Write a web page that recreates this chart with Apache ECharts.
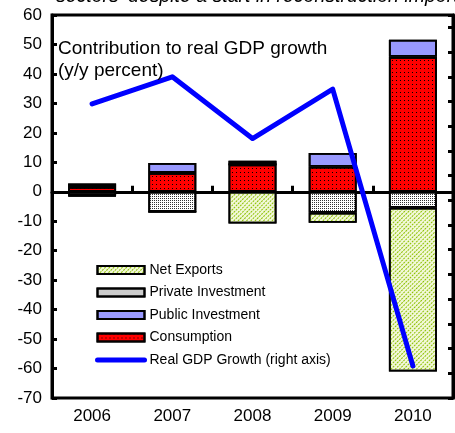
<!DOCTYPE html>
<html lang="en">
<head>
  <meta http-equiv="Content-Type" content="text/html; charset=UTF-8">
  <title>ECharts</title>
  <script type="text/javascript" src="https://cdn.jsdelivr.net/npm/echarts@6/dist/echarts.min.js"></script>
  <style>
    html, body { margin: 0; padding: 0; background: #fff; }
  </style>
</head>
<body>
<div id="main" style="width: 455px;height:433px;"></div>
<script type="text/javascript">
  // data
  var years = ['2006', '2007', '2008', '2009', '2010'];
  var consumption = [1.6, 6.4, 9.3, 8.5, 45.8];
  var publicInv = [1.2, 3.4, 0, 4.7, 5.8];
  var privateInv = [-1.3, -6.8, 1.2, -7.1, -5.4];
  var netExports = [-0.1, 0, -10.8, -3.4, -55.6];
  var gdpGrowth = [1.9, 3.0, 0.5, 2.5, -8.7];

  var font = 'Liberation Sans, Arial, sans-serif';
  var myChart = echarts.init(document.getElementById('main'));

  myChart.setOption({
    animation: false,
    aria: { enabled: true, decal: { show: true } },
    graphic: [
      {
        // title cut off by the top edge in the original
        type: 'text', left: 56, top: -13,
        style: {
          text: "sectors' despite a start in reconstruction imports",
          font: 'italic 19.5px ' + font, fill: '#000'
        }
      },
      {
        type: 'text', left: 58, top: 38, z: 10,
        style: {
          text: 'Contribution to real GDP growth\n(y/y percent)',
          font: '19px ' + font, fill: '#000', lineHeight: 22
        }
      }
    ],
    grid: {
      left: 52, right: 2, top: 15, bottom: 35,
      show: true, borderColor: '#000', borderWidth: 3
    },
    legend: {
      orient: 'vertical',
      left: 95, top: 263, padding: 0,
      itemWidth: 47, itemHeight: 8, itemGap: 8.5,
      textStyle: { fontFamily: font, fontSize: 14, color: '#000' },
      data: [
        { name: 'Net Exports', icon: 'rect' },
        { name: 'Private Investment', icon: 'rect' },
        { name: 'Public Investment', icon: 'rect' },
        { name: 'Consumption', icon: 'rect' },
        { name: 'Real GDP Growth (right axis)', itemStyle: { opacity: 0 }, lineStyle: { width: 5, color: '#0000ff', cap: 'round' } }
      ]
    },
    xAxis: [
      {
        // the year axis, labels along the bottom
        type: 'category', data: years, position: 'bottom',
        axisLine: { show: false, onZero: false },
        axisTick: { show: false },
        axisLabel: { fontFamily: font, fontSize: 17, color: '#000', margin: 10 }
      },
      {
        // zero line with short ticks between the years
        type: 'value', min: 0, max: years.length, interval: 1, position: 'bottom',
        axisLine: { show: true, onZero: true, lineStyle: { color: '#000', width: 3 } },
        axisTick: { show: true, inside: true, length: 6, lineStyle: { width: 3, color: '#000' } },
        axisLabel: { show: false },
        splitLine: { show: false }
      }
    ],
    yAxis: [
      {
        type: 'value', min: -70, max: 60, interval: 10,
        axisLine: { show: true, lineStyle: { color: '#000', width: 3 } },
        axisTick: { show: true, inside: true, length: 5, lineStyle: { width: 3, color: '#000' } },
        axisLabel: { fontFamily: font, fontSize: 17, color: '#000', margin: 10 },
        splitLine: { show: false }
      },
      {
        type: 'value', position: 'right', min: -10, max: 5.5, interval: 1,
        axisLine: { show: true, lineStyle: { color: '#000', width: 3 } },
        axisTick: { show: true, inside: true, length: 5, lineStyle: { width: 3, color: '#000' } },
        axisLabel: { show: false },
        splitLine: { show: false }
      }
    ],
    series: [
      {
        name: 'Consumption', type: 'bar', stack: 'c', barWidth: 48, data: consumption,
        itemStyle: {
          color: '#ff0000', borderColor: '#000', borderWidth: 1.8,
          decal: { symbol: 'rect', color: '#000', dashArrayX: [1, 3], dashArrayY: [1, 3], symbolSize: 1, rotation: 0 }
        }
      },
      {
        name: 'Public Investment', type: 'bar', stack: 'c', data: publicInv,
        itemStyle: {
          color: '#9999ff', borderColor: '#000', borderWidth: 1.8,
          decal: { symbol: 'none', dashArrayX: [0, 10], dashArrayY: [0, 10] }
        }
      },
      {
        name: 'Private Investment', type: 'bar', stack: 'c', data: privateInv,
        itemStyle: {
          color: '#ffffff', borderColor: '#000', borderWidth: 1.8,
          decal: { symbol: 'rect', color: '#333', dashArrayX: [1, 1], dashArrayY: [1, 1], symbolSize: 1, rotation: 0 }
        }
      },
      {
        name: 'Net Exports', type: 'bar', stack: 'c', data: netExports,
        itemStyle: {
          color: '#f2f8d8', borderColor: '#000', borderWidth: 1.8,
          decal: { symbol: 'rect', color: '#8cc000', dashArrayX: [[2, 1]], dashArrayY: [1, 1.5], symbolSize: 1, rotation: -Math.PI / 4 }
        }
      },
      {
        name: 'Real GDP Growth (right axis)', type: 'line', yAxisIndex: 1, data: gdpGrowth,
        symbol: 'none', z: 5,
        lineStyle: { color: '#0000ff', width: 5, cap: 'round', join: 'round' },
        itemStyle: { color: '#0000ff' }
      }
    ]
  });
</script>
</body>
</html>
